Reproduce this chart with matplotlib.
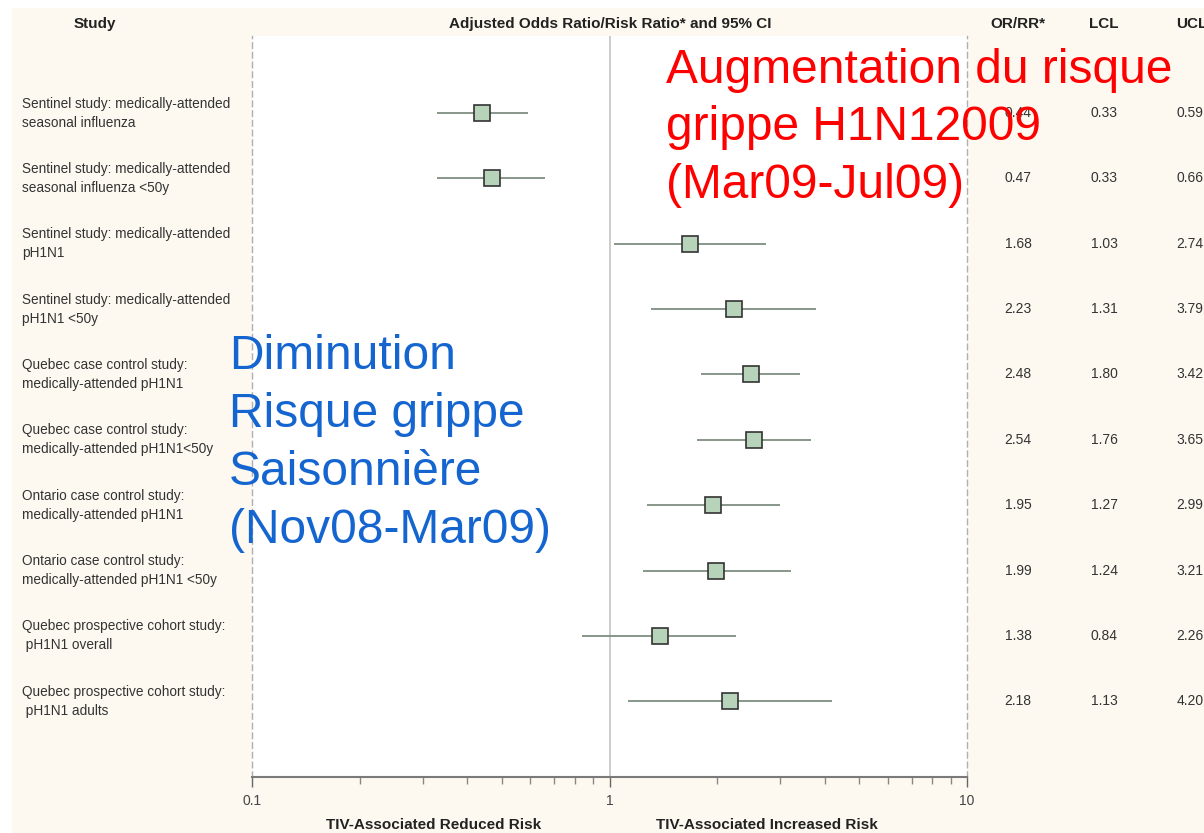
import matplotlib.pyplot as plt
import matplotlib.transforms as mtransforms
from matplotlib.patches import Rectangle

# ---------------------------------------------------------------------------
# Data
# ---------------------------------------------------------------------------
studies = [
    'Sentinel study: medically-attended\nseasonal influenza',
    'Sentinel study: medically-attended\nseasonal influenza <50y',
    'Sentinel study: medically-attended\npH1N1',
    'Sentinel study: medically-attended\npH1N1 <50y',
    'Quebec case control study:\nmedically-attended pH1N1',
    'Quebec case control study:\nmedically-attended pH1N1<50y',
    'Ontario case control study:\nmedically-attended pH1N1',
    'Ontario case control study:\nmedically-attended pH1N1 <50y',
    'Quebec prospective cohort study:\n pH1N1 overall',
    'Quebec prospective cohort study:\n pH1N1 adults',
]
or_rr = [0.44, 0.47, 1.68, 2.23, 2.48, 2.54, 1.95, 1.99, 1.38, 2.18]
lcl   = [0.33, 0.33, 1.03, 1.31, 1.80, 1.76, 1.27, 1.24, 0.84, 1.13]
ucl   = [0.59, 0.66, 2.74, 3.79, 3.42, 3.65, 2.99, 3.21, 2.26, 4.20]

x_ticks       = [0.1, 1, 10]
x_tick_labels = ['0.1', '1', '10']

headers = ['Study', 'Adjusted Odds Ratio/Risk Ratio* and 95% CI', 'OR/RR*', 'LCL', 'UCL']
bottom_labels = ['TIV-Associated Reduced Risk', 'TIV-Associated Increased Risk']

red_note  = 'Augmentation du risque\ngrippe H1N12009\n(Mar09-Jul09)'
blue_note = 'Diminution\nRisque grippe\nSaisonnière\n(Nov08-Mar09)'

# ---------------------------------------------------------------------------
# Figure
# ---------------------------------------------------------------------------
plt.rcParams['font.family'] = ['Liberation Sans', 'DejaVu Sans']

W, H = 1204, 833
fig = plt.figure(figsize=(W / 100, H / 100), dpi=100, facecolor='white')

def fx(px):
    return px / W

def fy(py):
    return 1 - py / H

# cream page background
fig.patches.append(Rectangle((fx(12), 0), 1 - fx(12), fy(8), transform=fig.transFigure,
                             facecolor='#fdf9f1', edgecolor='none', zorder=-10))

ax_top, ax_bot = 36, 777
ax = fig.add_axes([fx(252), fy(ax_bot), fx(967) - fx(252), (ax_bot - ax_top) / H])
ax.set_facecolor('white')
ax.set_xscale('log')
ax.set_xlim(0.1, 10)
ax.set_ylim(10.16, -1.18)

rows = list(range(len(studies)))
ax.axvline(1, color='#c4c4c4', lw=1.2, zorder=1)
ax.hlines(rows, lcl, ucl, color='#7f8e80', lw=1.3, zorder=2)
ax.plot(or_rr, rows, 's', ms=11.5, mfc='#b7d4ba', mec='#333333', mew=1.2, zorder=3)

for side in ['left', 'right']:
    ax.spines[side].set_linestyle((0, (4, 3)))
    ax.spines[side].set_color('#b0b0b0')
    ax.spines[side].set_linewidth(1.0)
ax.spines['top'].set_visible(False)
ax.spines['bottom'].set_color('#7a7a7a')
ax.spines['bottom'].set_linewidth(1.5)

ax.set_yticks([])
ax.set_xticks(x_ticks)
ax.set_xticklabels(x_tick_labels)
ax.tick_params(axis='x', which='major', length=7, width=1, color='#666666',
               labelsize=10, labelcolor='#444444', pad=5)
ax.tick_params(axis='x', which='minor', length=5, width=1, color='#888888')

# ---------------------------------------------------------------------------
# Text columns
# ---------------------------------------------------------------------------
row_tf = mtransforms.blended_transform_factory(fig.transFigure, ax.transData)

for i, (label, v, lo, hi) in enumerate(zip(studies, or_rr, lcl, ucl)):
    fig.text(fx(22), i, label, transform=row_tf, ha='left', va='center',
             fontsize=9.8, color='#333333', linespacing=1.45)
    fig.text(fx(1018), i, f'{v:.2f}', transform=row_tf, ha='center', va='center',
             fontsize=10, color='#333333')
    fig.text(fx(1104), i, f'{lo:.2f}', transform=row_tf, ha='center', va='center',
             fontsize=10, color='#333333')
    fig.text(fx(1190), i, f'{hi:.2f}', transform=row_tf, ha='center', va='center',
             fontsize=10, color='#333333')

header_x = [95, 610, 1018, 1104, 1192]
for hx, h in zip(header_x, headers):
    fig.text(fx(hx), fy(24), h, ha='center', va='center', fontsize=11,
             fontweight='bold', color='#222222')

for bx, b in zip([434, 767], bottom_labels):
    fig.text(fx(bx), fy(825), b, ha='center', va='center', fontsize=11,
             fontweight='bold', color='#222222')

# ---------------------------------------------------------------------------
# Annotations
# ---------------------------------------------------------------------------
fig.text(fx(666), fy(48), red_note, ha='left', va='top', fontsize=34.5,
         color='#ff0000', linespacing=1.35)
fig.text(fx(229), fy(334), blue_note, ha='left', va='top', fontsize=34.5,
         color='#1565d0', linespacing=1.37)

fig.savefig('out.png', dpi=100, facecolor=fig.get_facecolor())
